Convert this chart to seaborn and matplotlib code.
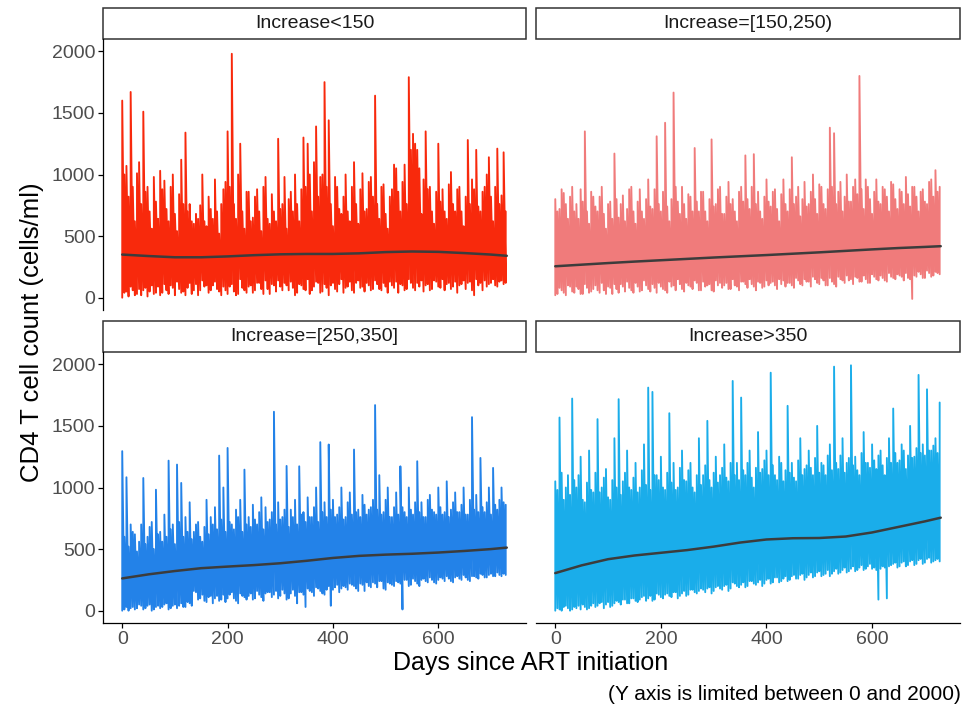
import pandas as pd
import seaborn as sns
import matplotlib.pyplot as plt
from matplotlib.patches import Rectangle

# panel labels and line colours
groups = ["Increase<150", "Increase=[150,250)", "Increase=[250,350]", "Increase>350"]
colors = ["#F8290C", "#F07B7B", "#2382E8", "#1AADEA"]

# visit days since ART initiation (every 4 days), each visit has a low and a high reading
days = list(range(0, 732, 4))

# Increase<150
high_lt150 = [
    1600, 1000, 1070, 820, 1670, 900, 620, 1010, 1100, 760,
    1510, 860, 900, 700, 560, 980, 780, 640, 1030, 880,
    950, 720, 620, 900, 1000, 680, 540, 840, 1120, 760,
    1340, 700, 760, 620, 600, 680, 640, 750, 1000, 620,
    580, 820, 720, 640, 960, 700, 520, 760, 880, 940,
    1350, 900, 1980, 760, 640, 1000, 1250, 700, 560, 860,
    860, 620, 650, 820, 880, 700, 540, 900, 980, 640,
    600, 840, 700, 620, 1290, 720, 760, 980, 560, 800,
    860, 700, 1000, 760, 620, 880, 1300, 900, 1250, 1000,
    700, 1100, 1390, 820, 980, 1000, 1750, 900, 1440, 760,
    580, 980, 900, 720, 680, 820, 1000, 700, 620, 900,
    1100, 760, 600, 880, 1010, 700, 720, 940, 980, 820,
    1640, 760, 640, 900, 920, 680, 560, 820, 880, 1080,
    1050, 860, 700, 940, 1080, 760, 1790, 1200, 1330, 1250,
    1200, 1050, 680, 960, 1350, 880, 900, 700, 600, 860,
    1250, 780, 880, 700, 640, 920, 1020, 760, 700, 880,
    900, 700, 580, 820, 1280, 760, 960, 880, 1200, 740,
    700, 860, 900, 1000, 1140, 820, 620, 900, 1210, 760,
    830, 1180, 700,
]
low_lt150 = [
    0, 40, 50, 10, 90, 60, 20, 30, 70, 20,
    60, 80, 10, 50, 100, 30, 40, 90, 20, 40,
    110, 60, 30, 100, 80, 20, 130, 70, 40, 50,
    20, 80, 120, 30, 60, 110, 20, 60, 140, 90,
    100, 40, 60, 100, 130, 70, 50, 20, 90, 60,
    30, 90, 110, 50, 20, 30, 150, 80, 60, 40,
    90, 100, 40, 60, 120, 120, 70, 30, 140, 70,
    30, 110, 100, 50, 140, 90, 60, 120, 100, 60,
    130, 80, 20, 40, 110, 100, 70, 60, 150, 30,
    60, 90, 130, 120, 40, 50, 110, 80, 20, 100,
    120, 70, 50, 110, 150, 40, 80, 90, 130, 60,
    40, 120, 140, 80, 90, 50, 120, 100, 60, 70,
    140, 110, 70, 60, 120, 90, 40, 130, 100, 80,
    130, 40, 110, 100, 60, 70, 150, 120, 80, 60,
    120, 90, 140, 50, 100, 110, 60, 70, 140, 130,
    90, 80, 150, 60, 110, 120, 70, 90, 130, 40,
    100, 110, 140, 70, 120, 130, 60, 20, 150, 100,
    120, 60, 140, 90, 110, 120, 150, 100, 90, 130,
    140, 110, 120,
]

# Increase=[150,250)
high_150_250 = [
    800, 700, 720, 880, 850, 760, 640, 820, 900, 700,
    760, 640, 880, 780, 1350, 700, 600, 860, 820, 740,
    700, 820, 900, 680, 560, 760, 780, 640, 1170, 800,
    650, 760, 830, 620, 720, 880, 900, 700, 600, 780,
    880, 700, 640, 800, 960, 740, 720, 880, 1310, 760,
    700, 860, 1420, 740, 620, 800, 1665, 900, 780, 680,
    900, 760, 640, 840, 820, 700, 1215, 780, 700, 860,
    860, 700, 620, 800, 1285, 740, 760, 880, 900, 680,
    680, 820, 940, 760, 800, 700, 620, 860, 900, 780,
    1155, 800, 720, 900, 1165, 760, 860, 700, 640, 820,
    960, 780, 740, 860, 880, 720, 620, 840, 960, 760,
    700, 880, 1140, 760, 820, 900, 660, 800, 940, 740,
    760, 860, 1000, 800, 680, 920, 900, 760, 720, 880,
    1380, 900, 1335, 760, 860, 940, 700, 820, 1000, 780,
    780, 900, 960, 840, 1800, 880, 720, 960, 900, 800,
    680, 860, 960, 780, 760, 900, 880, 820, 700, 940,
    920, 800, 720, 880, 860, 760, 980, 840, 740, 900,
    900, 820, 700, 860, 880, 780, 760, 940, 960, 820,
    1035, 860, 900,
]
low_150_250 = [
    20, 30, 80, 60, 40, 20, 100, 90, 50, 40,
    90, 70, 30, 30, 110, 80, 40, 50, 70, 100,
    60, 40, 120, 60, 30, 90, 80, 30, 110, 70,
    40, 110, 90, 50, 130, 80, 60, 40, 120, 90,
    50, 60, 140, 100, 70, 50, 110, 80, 40, 120,
    90, 70, 60, 40, 130, 90, 100, 60, 150, 110,
    70, 50, 120, 100, 90, 70, 140, 120, 60, 60,
    130, 90, 100, 110, 60, 50, 140, 100, 120, 80,
    100, 120, 70, 70, 150, 100, 90, 60, 130, 130,
    110, 80, 150, 110, 90, 60, 130, 120, 80, 90,
    140, 100, 120, 130, 100, 70, 150, 110, 140, 90,
    120, 120, 100, 80, 160, 140, 110, 100, 150, 130,
    130, 90, 170, 150, 120, 110, 160, 140, 100, 100,
    160, 130, 110, 90, 170, 150, 140, 120, 180, 140,
    150, 110, 170, 160, 130, 130, 180, 150, 120, 120,
    190, 170, 150, 140, 180, 160, 140, 130, 200, 170,
    160, 150, 190, 180, 170, 140, 200, 160, 150, -10,
    180, 170, 210, 190, 160, 160, 220, 200, 170, 180,
    210, 200, 190,
]

# Increase=[250,350]
high_250_350 = [
    1295, 600, 1083, 520, 700, 640, 620, 480, 560, 700,
    1077, 540, 600, 680, 720, 500, 982, 620, 640, 560,
    780, 600, 1218, 660, 700, 540, 1186, 720, 1037, 600,
    760, 640, 880, 580, 640, 700, 720, 600, 560, 680,
    900, 620, 760, 700, 840, 660, 1259, 740, 1000, 640,
    1321, 720, 700, 660, 820, 760, 900, 640, 1145, 700,
    760, 680, 860, 740, 700, 800, 920, 660, 840, 720,
    740, 800, 1615, 700, 880, 740, 760, 820, 1175, 680,
    820, 760, 900, 700, 1172, 780, 800, 720, 920, 760,
    760, 840, 1000, 720, 1368, 800, 880, 760, 1349, 820,
    900, 760, 780, 840, 1000, 740, 760, 880, 960, 780,
    1308, 800, 820, 760, 940, 860, 780, 820, 840, 900,
    1669, 820, 1100, 780, 800, 900, 1000, 760, 760, 840,
    960, 780, 1172, 840, 800, 760, 1000, 820, 780, 880,
    1213, 800, 880, 760, 760, 900, 940, 820, 800, 780,
    1000, 840, 780, 800, 1050, 760, 820, 880, 960, 800,
    800, 860, 1000, 780, 780, 900, 1571, 820, 940, 800,
    1240, 840, 800, 880, 1000, 780, 1159, 860, 820, 900,
    1000, 880, 860,
]
low_250_350 = [
    0, 10, 30, 0, 20, 30, 10, 20, 50, 40,
    10, 20, 40, 50, 0, 10, 30, 40, 20, 30,
    50, 60, 10, 20, 40, 50, 20, 40, 60, 30,
    30, 70, 60, 40, 160, 150, 90, 100, 130, 80,
    70, 110, 120, 60, 100, 120, 80, 90, 130, 70,
    100, 130, 150, 100, 80, 60, 140, 120, 110, 90,
    120, 140, 90, 100, 160, 130, 110, 80, 140, 150,
    150, 110, 130, 160, 100, 120, 170, 140, 90, 100,
    140, 170, 120, 60, 150, 150, 130, 30, 180, 160,
    150, 120, 190, 180, 160, 140, 130, 170, 200, 40,
    170, 190, 210, 150, 180, 200, 190, 170, 220, 210,
    200, 180, 160, 220, 210, 160, 230, 200, 190, 230,
    220, 190, 240, 240, 180, 170, 230, 220, 210, 200,
    240, 230, 220, 10, 250, 250, 200, 210, 260, 240,
    220, 200, 250, 260, 240, 230, 270, 250, 230, 220,
    250, 270, 260, 240, 280, 260, 240, 230, 270, 280,
    260, 250, 290, 270, 250, 240, 280, 280, 270, 260,
    300, 290, 270, 270, 290, 300, 280, 280, 310, 290,
    280, 300, 290,
]

# Increase>350
high_gt350 = [
    1050, 980, 1568, 1120, 900, 1000, 1100, 940, 1722, 1060,
    1000, 1100, 1250, 900, 880, 1040, 1300, 980, 960, 1120,
    1555, 960, 1000, 1080, 1150, 920, 900, 1060, 1400, 1000,
    1717, 940, 1050, 1120, 1300, 1000, 980, 1080, 1200, 960,
    1000, 1140, 1350, 1020, 1811, 980, 1776, 1100, 1100, 1060,
    1250, 1000, 980, 1120, 1603, 1040, 1200, 980, 1000, 1160,
    1300, 1060, 1050, 1140, 1200, 1000, 960, 1100, 1400, 1020,
    1100, 1180, 1541, 1060, 1000, 1120, 1250, 1040, 1100, 1160,
    1350, 1080, 1050, 1200, 1865, 1100, 1200, 1060, 1730, 1140,
    1100, 1200, 1300, 1080, 1000, 1160, 1450, 1120, 1150, 1220,
    1300, 1100, 1932, 1180, 1100, 1060, 1250, 1200, 1050, 1140,
    1663, 1120, 1200, 1080, 1050, 1220, 1400, 1100, 1150, 1180,
    1300, 1160, 1100, 1240, 1500, 1120, 1200, 1180, 1100, 1260,
    1350, 1140, 1981, 1200, 1150, 1260, 1400, 1120, 1200, 1240,
    1992, 1180, 1250, 1140, 1100, 1280, 1450, 1200, 1200, 1160,
    1350, 1220, 1150, 1260, 1300, 1180, 1100, 1240, 1400, 1200,
    1641, 1280, 1200, 1220, 1350, 1300, 1150, 1260, 1500, 1240,
    1250, 1320, 1914, 1280, 1350, 1260, 1797, 1300, 1300, 1340,
    1400, 1280, 1690,
]
low_gt350 = [
    0, 20, 10, 0, 30, 40, 20, 0, 10, 30,
    20, 40, 10, 50, 30, 10, 20, 40, 60, 30,
    40, 60, 70, 20, 50, 70, 30, 40, 60, 80,
    70, 50, 90, 90, 60, 60, 100, 100, 80, 70,
    90, 110, 120, 80, 100, 120, 80, 90, 140, 130,
    110, 100, 130, 140, 120, 110, 150, 150, 100, 120,
    140, 160, 120, 130, 170, 170, 150, 140, 160, 180,
    170, 150, 180, 190, 140, 160, 190, 200, 180, 170,
    200, 210, 160, 180, 230, 220, 200, 190, 210, 230,
    190, 200, 240, 240, 220, 210, 230, 250, 200, 220,
    250, 260, 220, 230, 270, 270, 230, 240, 260, 280,
    240, 250, 280, 290, 260, 260, 290, 300, 250, 270,
    290, 310, 270, 280, 310, 320, 280, 290, 300, 330,
    280, 300, 320, 340, 300, 310, 330, 350, 310, 320,
    340, 360, 320, 330, 350, 370, 330, 340, 360, 380,
    340, 350, 330, 90, 340, 360, 350, 100, 360, 370,
    380, 390, 350, 360, 390, 400, 360, 370, 400, 410,
    370, 380, 410, 420, 380, 390, 420, 430, 390, 400,
    410, 420, 400,
]

# smoothed trend per panel
trend_days = [0, 50, 100, 150, 200, 250, 300, 350, 400, 450, 500, 550, 600, 650, 700, 730]
trend_lt150 = [350, 338, 328, 328, 335, 345, 352, 355, 355, 360, 370, 375, 372, 362, 350, 340]
trend_150_250 = [255, 268, 281, 293, 304, 315, 326, 336, 346, 357, 368, 380, 392, 403, 412, 418]
trend_250_350 = [262, 295, 322, 345, 358, 370, 385, 405, 428, 445, 455, 462, 472, 485, 500, 512]
trend_gt350 = [305, 368, 418, 448, 470, 492, 520, 553, 578, 588, 590, 602, 635, 680, 725, 755]

highs = [high_lt150, high_150_250, high_250_350, high_gt350]
lows = [low_lt150, low_150_250, low_250_350, low_gt350]
trends = [trend_lt150, trend_150_250, trend_250_350, trend_gt350]

df = pd.concat(
    [pd.DataFrame({"day": days + days, "cd4": hi + lo, "group": g})
     for g, hi, lo in zip(groups, highs, lows)],
    ignore_index=True,
)
trend_df = pd.concat(
    [pd.DataFrame({"day": trend_days, "cd4": vals, "group": g}) for g, vals in zip(groups, trends)],
    ignore_index=True,
)

sns.set_theme(style="white")
plt.rcParams["font.family"] = ["Liberation Sans", "DejaVu Sans"]

fig = plt.figure(figsize=(9.72, 7.08), dpi=100)
W, H = 972, 708
# panel boxes in pixels: left, top, right, bottom
boxes = [(103, 39, 526, 310), (536, 39, 960, 310),
         (103, 352, 526, 623), (536, 352, 960, 623)]

for i, (g, col) in enumerate(zip(groups, colors)):
    l, t, r, b = boxes[i]
    ax = fig.add_axes([l / W, 1 - b / H, (r - l) / W, (b - t) / H])
    # sorted by day then value, so each visit is drawn low -> high
    sns.lineplot(data=df[df["group"] == g], x="day", y="cd4", color=col,
                 estimator=None, sort=True, linewidth=1.35, ax=ax)
    sns.lineplot(data=trend_df[trend_df["group"] == g], x="day", y="cd4",
                 color="#3C3C3C", estimator=None, linewidth=1.8, ax=ax)
    ax.set_xlim(-36.5, 766.5)
    ax.set_ylim(-100, 2100)
    ax.set_xlabel("")
    ax.set_ylabel("")
    for s in ax.spines.values():
        s.set_visible(False)
    left_col = i % 2 == 0
    bottom_row = i >= 2
    ax.set_yticks([0, 500, 1000, 1500, 2000])
    ax.set_xticks([0, 200, 400, 600])
    if left_col:
        ax.spines["left"].set_visible(True)
        ax.spines["left"].set_color("black")
        ax.spines["left"].set_linewidth(0.9)
    if bottom_row:
        ax.spines["bottom"].set_visible(True)
        ax.spines["bottom"].set_color("black")
        ax.spines["bottom"].set_linewidth(0.9)
    ax.tick_params(axis="y", left=left_col, labelleft=left_col, length=3.5,
                   width=0.9, color="black", labelsize=14, labelcolor="#4D4D4D", pad=2)
    ax.tick_params(axis="x", bottom=bottom_row, labelbottom=bottom_row, length=3.5,
                   width=0.9, color="black", labelsize=14, labelcolor="#4D4D4D", pad=2)
    # strip on top of panel
    sh = 31 / (b - t)
    ax.add_patch(Rectangle((0, 1), 1, sh, transform=ax.transAxes, clip_on=False,
                           facecolor="white", edgecolor="#333333", linewidth=1.1))
    ax.text(0.5, 1 + sh / 2, g, transform=ax.transAxes, ha="center", va="center",
            fontsize=14, color="#1A1A1A")

fig.text(32 / W, 1 - 332 / H, "CD4 T cell count (cells/ml)", rotation=90,
         ha="center", va="center", fontsize=18.5, color="black")
fig.text(531 / W, 1 - 663 / H, "Days since ART initiation", ha="center", va="center",
         fontsize=18, color="black")
fig.text(961 / W, 1 - 694 / H, "(Y axis is limited between 0 and 2000)", ha="right",
         va="center", fontsize=15, color="black")

fig.savefig("out.png", dpi=100)
